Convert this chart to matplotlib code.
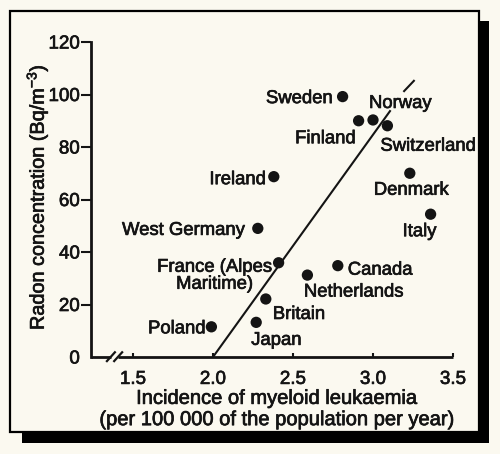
import matplotlib
matplotlib.use('Agg')
import matplotlib.pyplot as plt
import matplotlib.patheffects as pe
from matplotlib.patches import Rectangle

plt.rcParams['font.family'] = ['Liberation Sans', 'DejaVu Sans']
plt.rcParams['mathtext.fontset'] = 'custom'
plt.rcParams['mathtext.rm'] = 'Liberation Sans'
plt.rcParams['mathtext.default'] = 'regular'

paper = '#fbf9f0'
ink = '#141414'
heavy = [pe.withStroke(linewidth=0.5, foreground=ink)]  # printed type looks a bit heavier

# data
countries = ['Sweden', 'Finland', 'Norway', 'Switzerland', 'Ireland', 'Denmark', 'Italy',
             'West Germany', 'France (Alpes\nMaritime)', 'Canada', 'Netherlands',
             'Britain', 'Japan', 'Poland']
leukaemia = [2.81, 2.91, 3.00, 3.09, 2.38, 3.23, 3.36, 2.28, 2.41, 2.78, 2.59, 2.33, 2.27, 1.99]
radon = [99.2, 90.0, 90.3, 88.1, 68.7, 70.0, 54.4, 49.0, 35.9, 34.8, 31.2, 22.1, 13.2, 11.5]

# fitted line, in two pieces (it breaks behind "Norway")
fit_x = [2.0, 3.11]
fit_y = [0, 94]
tail_x = [3.19, 3.26]
tail_y = [101, 105.5]

xticks = [1.5, 2.0, 2.5, 3.0, 3.5]
yticks = [0, 20, 40, 60, 80, 100, 120]

# label offset from its dot in pixels (dx, dy), horizontal / vertical alignment
label_pos = [(-10, -6.5, 'right', 'baseline'),
             (-3, -22.5, 'right', 'baseline'),
             (-4, 12, 'left', 'baseline'),
             (-7, -25, 'left', 'baseline'),
             (-8, -7.5, 'right', 'baseline'),
             (-36, -21.5, 'left', 'baseline'),
             (-28, -22, 'left', 'baseline'),
             (-13, -6.5, 'right', 'baseline'),
             (-64, 4, 'center', 'top'),
             (10, -9, 'left', 'baseline'),
             (-3.5, -21.5, 'left', 'baseline'),
             (7, -20, 'left', 'baseline'),
             (-5, -22.5, 'left', 'baseline'),
             (-6, -6.5, 'right', 'baseline')]

W, H = 500, 454
fig = plt.figure(figsize=(W / 100, H / 100), dpi=100, facecolor=paper)

# card with drop shadow
fig.patches.append(Rectangle((22 / W, 1 - 443 / H), 467 / W, 422 / H, transform=fig.transFigure,
                             facecolor='black', edgecolor='none', zorder=0))
fig.patches.append(Rectangle((10 / W, 1 - 432 / H), 469 / W, 421 / H, transform=fig.transFigure,
                             facecolor=paper, edgecolor='black', lw=1.6, zorder=1))

ax = fig.add_axes([91 / W, 1 - 357 / H, 362 / W, 315 / H])
ax.set_zorder(2)
ax.patch.set_visible(False)
ax.set_xlim(1.2375, 3.5)
ax.set_ylim(0, 120)

ax.plot(fit_x, fit_y, color=ink, lw=1.5, solid_capstyle='butt')
ax.plot(tail_x, tail_y, color=ink, lw=1.5, solid_capstyle='butt')
ax.scatter(leukaemia, radon, s=66, color=ink, edgecolors='none', zorder=3, clip_on=False)

for name, x, y, (dx, dy, ha, va) in zip(countries, leukaemia, radon, label_pos):
    ax.annotate(name, (x, y), xytext=(dx, dy), textcoords='offset pixels',
                ha=ha, va=va, fontsize=13.3, color=ink, linespacing=1.0,
                multialignment='center', path_effects=heavy)

for side in ['top', 'right', 'bottom']:
    ax.spines[side].set_visible(False)
ax.spines['left'].set_linewidth(2)
ax.spines['left'].set_color(ink)

# x axis with the // break near the origin
ax.plot([0, 0.055], [0, 0], transform=ax.transAxes, color=ink, lw=2, clip_on=False,
        solid_capstyle='butt')
ax.plot([0.075, 1], [0, 0], transform=ax.transAxes, color=ink, lw=2, clip_on=False,
        solid_capstyle='butt')
for cx in [0.055, 0.075]:
    ax.plot([cx - 0.011, cx + 0.011], [-0.013, 0.015], transform=ax.transAxes, color=ink,
            lw=1.6, clip_on=False)

ax.set_xticks(xticks, labels=[f'{t:.1f}' for t in xticks])
ax.set_yticks(yticks, labels=[str(t) for t in yticks])
ax.tick_params(axis='x', direction='in', length=3, width=1.5, pad=10, labelsize=13.5,
               color=ink, labelcolor=ink)
ax.tick_params(axis='y', direction='out', length=7, width=1.5, pad=1, labelsize=13.5,
               color=ink, labelcolor=ink)
ax.yaxis.get_major_ticks()[0].tick1line.set_visible(False)
for lab in ax.get_xticklabels() + ax.get_yticklabels():
    lab.set_path_effects(heavy)

fig.text(277 / W, 1 - 409 / H,
         'Incidence of myeloid leukaemia\n(per 100 000 of the population per year)',
         ha='center', va='center', fontsize=14.5, color=ink, linespacing=1.15,
         path_effects=heavy)
fig.text(37 / W, 1 - 197 / H, 'Radon concentration (Bq/m$^{-3}$)', rotation=90,
         ha='center', va='center', fontsize=14.3, color=ink, path_effects=heavy)

fig.savefig('out.png', dpi=100, facecolor=paper)
